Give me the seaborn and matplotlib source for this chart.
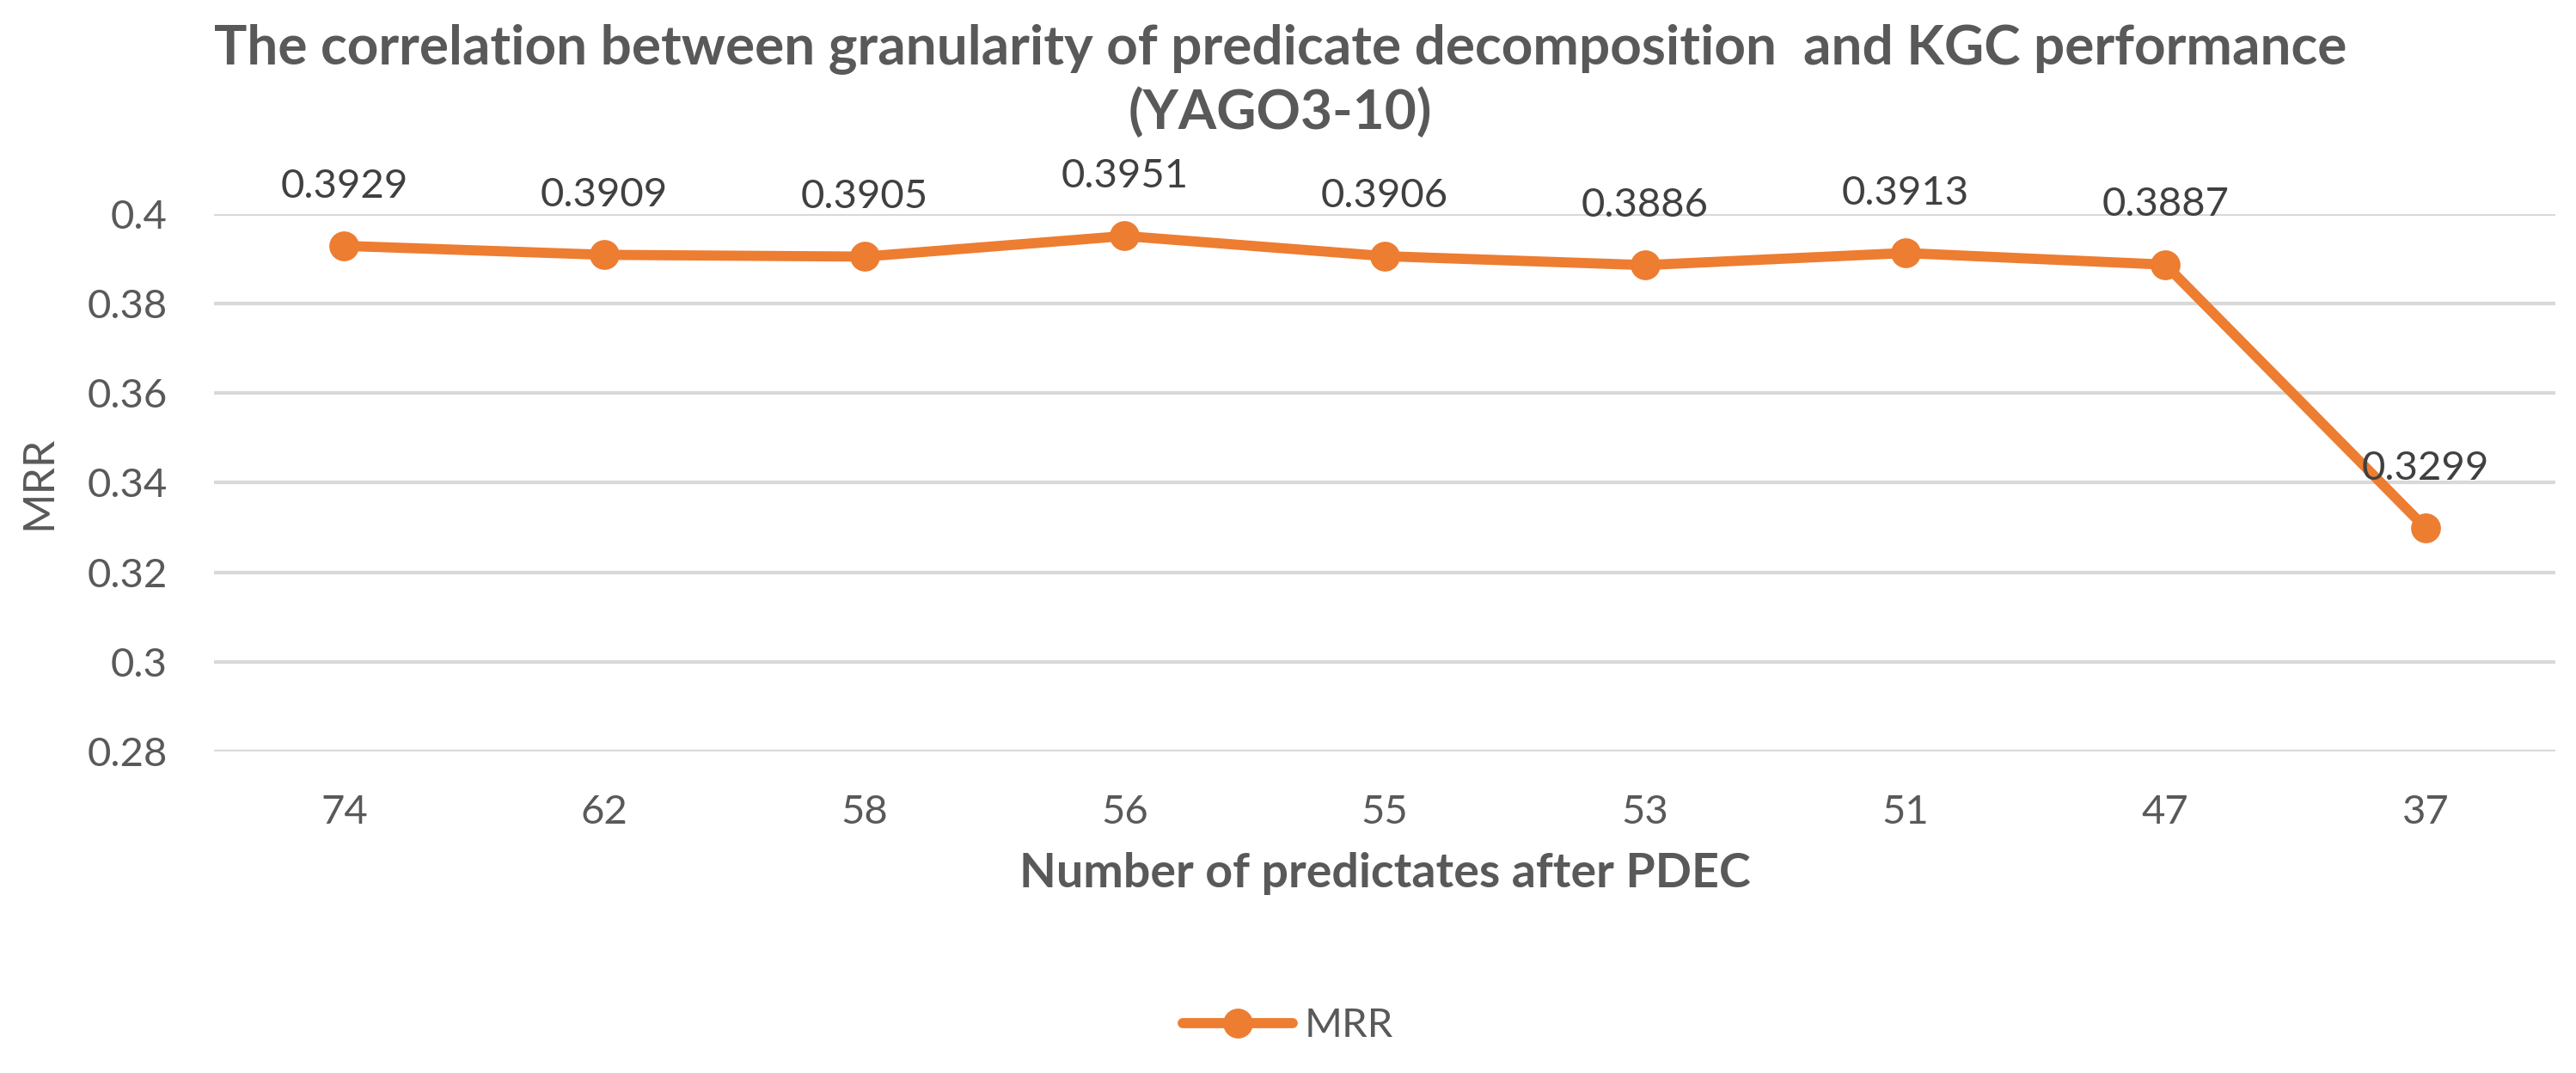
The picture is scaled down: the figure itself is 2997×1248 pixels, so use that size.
import pandas as pd
import seaborn as sns
from matplotlib import pyplot as plt

# データ
predicates = ["74", "62", "58", "56", "55", "53", "51", "47", "37"]
mrr = [0.3929, 0.3909, 0.3905, 0.3951, 0.3906, 0.3886, 0.3913, 0.3887, 0.3299]
y_ticks = [0.28, 0.3, 0.32, 0.34, 0.36, 0.38, 0.4]
y_tick_labels = ["0.28", "0.3", "0.32", "0.34", "0.36", "0.38", "0.4"]

df = pd.DataFrame({"predicates": predicates, "MRR": mrr})

sns.set_theme(style="white")
plt.rcParams["font.family"] = ["Lato", "DejaVu Sans"]

orange = "#ED7D31"
gray = "#595959"

fig = plt.figure(figsize=(29.97, 12.48), dpi=100)
ax = fig.add_axes([0.0831, 0.2997, 0.909, 0.5008])

sns.lineplot(data=df, x="predicates", y="MRR", sort=False, color=orange,
             linewidth=8.5, marker="o", markersize=25, markeredgewidth=0,
             label="MRR", ax=ax)

# データラベル
for i, v in enumerate(mrr):
    ax.annotate(f"{v:.4f}", (i, v), xytext=(0, 50), textcoords="offset points",
                ha="center", va="center", fontsize=34, color="#404040",
                annotation_clip=False)

ax.set_xlim(-0.5, len(predicates) - 0.5)
ax.set_ylim(0.28, 0.4)
ax.set_yticks(y_ticks)
ax.set_yticklabels(y_tick_labels)
ax.grid(axis="y", color="#D9D9D9", linewidth=3)
ax.set_axisbelow(True)
for s in ax.spines.values():
    s.set_visible(False)
ax.tick_params(axis="both", labelsize=34, labelcolor=gray, length=0)
ax.tick_params(axis="y", pad=39)
ax.tick_params(axis="x", pad=36)

ax.set_xlabel("Number of predictates after PDEC", fontsize=40, fontweight="bold",
              color=gray, labelpad=18)
ax.set_ylabel("MRR", fontsize=36, color=gray, labelpad=24)

fig.suptitle("The correlation between granularity of predicate decomposition  and KGC performance\n(YAGO3-10)",
             fontsize=46, fontweight="bold", color=gray, x=0.497, y=0.978, linespacing=1.28)

ax.legend(loc="center", bbox_to_anchor=(0.5, 0.044), bbox_transform=fig.transFigure,
          frameon=False, fontsize=34, labelcolor=gray, handlelength=2.7,
          handletextpad=0.3)

fig.savefig("out.png", dpi=100, facecolor="white")
